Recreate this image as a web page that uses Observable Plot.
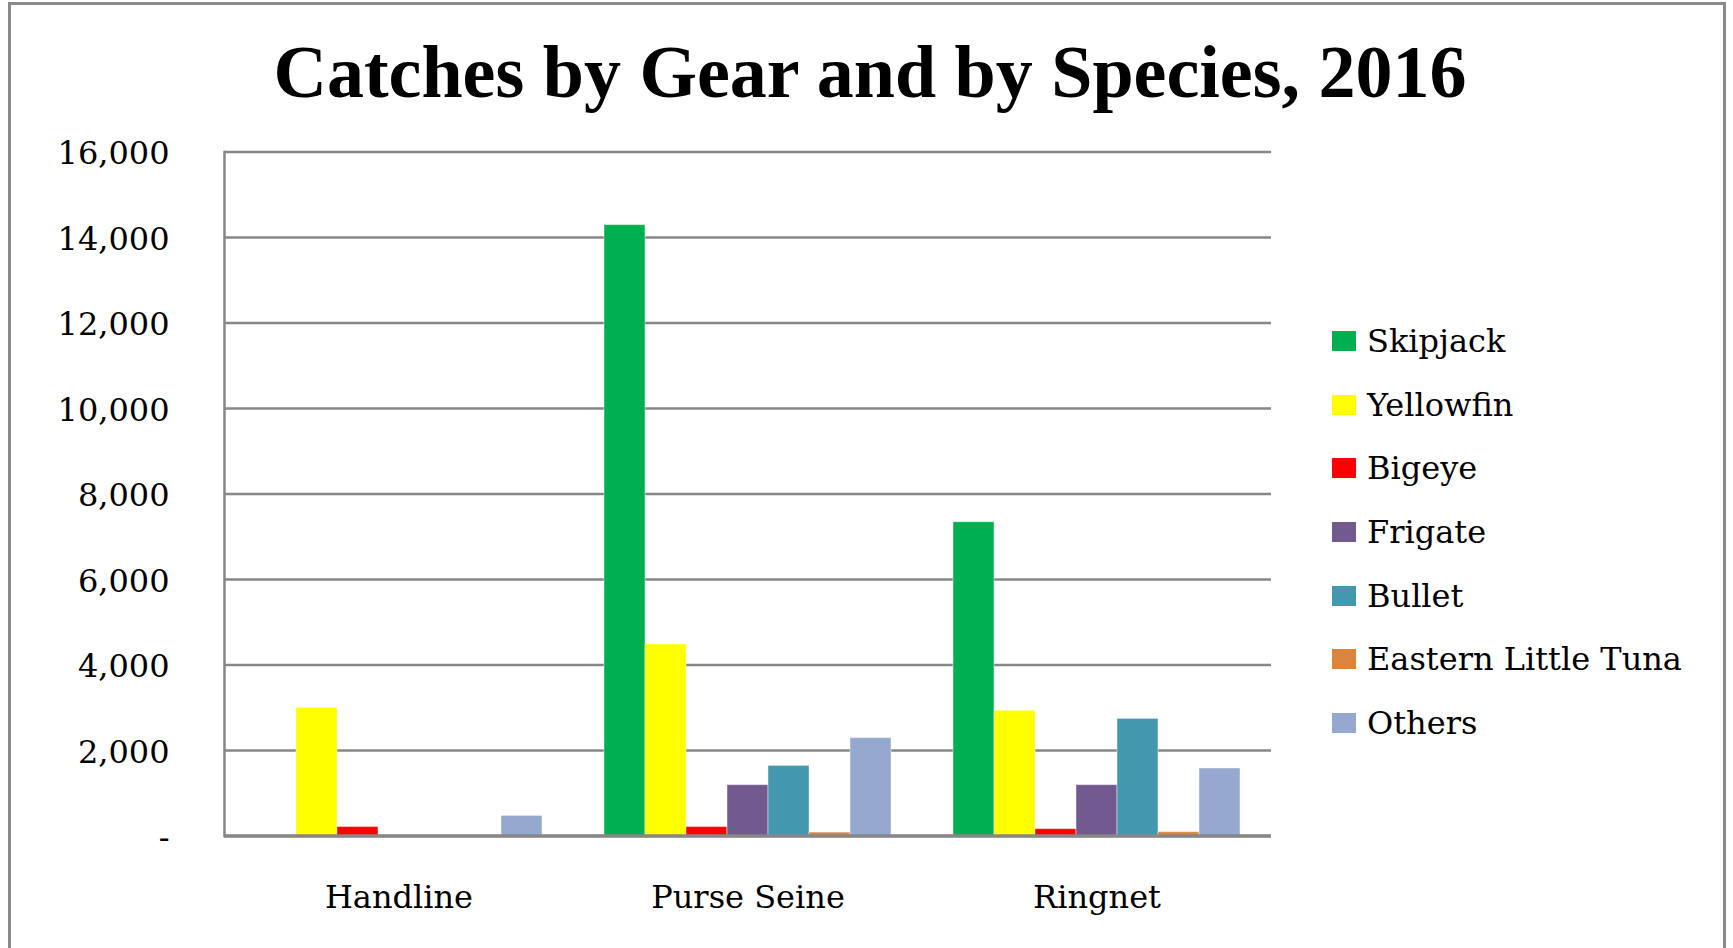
<!DOCTYPE html>
<html>
<head>
<meta charset="utf-8">
<script src="https://cdn.jsdelivr.net/npm/d3@7"></script>
<script src="https://cdn.jsdelivr.net/npm/@observablehq/plot@0.6"></script>
<style>
  html, body { margin: 0; padding: 0; background: #fff; }
  #wrap { position: relative; width: 1733px; height: 948px; overflow: hidden; background: #fff; }
  #frame { position: absolute; left: 8px; top: 2px; width: 1718px; height: 980px; border: 3px solid #8a8a8a; box-sizing: border-box; }
  #title { position: absolute; left: 0; width: 1740px; top: 35px; text-align: center;
           font-family: "Liberation Serif", serif; font-weight: bold; font-size: 74px; line-height: 74px; color: #000; }
  #chart { position: absolute; left: 0; top: 0; }
  #legend { position: absolute; left: 1332px; top: 309px; font-family: "DejaVu Serif", serif; font-size: 32px; color: #000; }
  .row { height: 63.7px; display: flex; align-items: center; white-space: nowrap; }
  .sw { width: 24px; height: 20px; margin-right: 11px; flex: none; }
</style>
</head>
<body>
<div id="wrap">
  <div id="frame"></div>
  <div id="chart"></div>
  <div id="title">Catches by Gear and by Species, 2016</div>
  <div id="legend"></div>
</div>
<script>
// ---- data ----
const gears = ["Handline", "Purse Seine", "Ringnet"];
const species = ["Skipjack", "Yellowfin", "Bigeye", "Frigate", "Bullet", "Eastern Little Tuna", "Others"];
const colors = ["#00B050", "#FFFF00", "#FF0000", "#725A8F", "#4398B0", "#DB843D", "#95A9D0"];
const handline   = [0, 3000, 210, 0, 0, 0, 470];
const purseSeine = [14290, 4480, 210, 1190, 1640, 80, 2290];
const ringnet    = [7340, 2930, 160, 1190, 2740, 90, 1580];
const yTicks = [0, 2000, 4000, 6000, 8000, 10000, 12000, 14000, 16000];

const valuesByGear = [handline, purseSeine, ringnet];
const rows = [];
gears.forEach((g, gi) => species.forEach((s, si) => rows.push({gear: g, species: s, value: valuesByGear[gi][si]})));

const fmt = d => d === 0 ? "-" : d3.format(",")(d);

const chart = Plot.plot({
  width: 1733,
  height: 948,
  marginLeft: 223,
  marginRight: 462,
  marginTop: 151.5,
  marginBottom: 112.5,
  style: {fontFamily: "DejaVu Serif", fontSize: "32px", color: "#000", background: "transparent"},
  fx: {domain: gears, padding: 0, label: null},
  x: {domain: species, paddingInner: 0, paddingOuter: 0.75, axis: null},
  y: {domain: [0, 16000], label: null},
  color: {domain: species, range: colors},
  marks: [
    Plot.gridY(yTicks, {stroke: "#878787", strokeOpacity: 1, strokeWidth: 2.5}),
    Plot.barY(rows, {fx: "gear", x: "species", y: "value", fill: "species", stroke: "#ffffff", strokeOpacity: 0.45, strokeWidth: 1}),
    Plot.ruleY([0], {stroke: "#878787", strokeWidth: 3.5}),
    Plot.frame({anchor: "left", facetAnchor: "left", stroke: "#878787", strokeWidth: 2.5}),
    Plot.axisY(yTicks, {tickSize: 0, tickPadding: 55, dy: 2, tickFormat: fmt, fontSize: 32, label: null}),
    Plot.axisFx({anchor: "bottom", tickSize: 0, tickPadding: 49, fontSize: 32, label: null})
  ]
});
document.getElementById("chart").appendChild(chart);

// ---- legend ----
const legend = document.getElementById("legend");
species.forEach((s, i) => {
  const row = document.createElement("div");
  row.className = "row";
  const sw = document.createElement("div");
  sw.className = "sw";
  sw.style.background = colors[i];
  const t = document.createElement("span");
  t.textContent = s;
  row.appendChild(sw);
  row.appendChild(t);
  legend.appendChild(row);
});
</script>
</body>
</html>
